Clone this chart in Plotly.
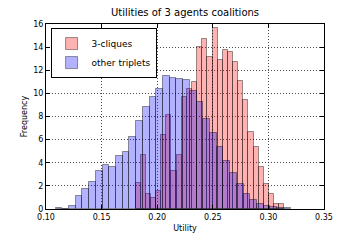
import numpy as np
import plotly.graph_objects as go

# --- data (densities, normed histograms) ---
clique_start = 0.1805      # left edge of first "3-cliques" bin
clique_width = 0.004618    # bin width
clique_heights = [2.25, 4.7, 1.3, 0.95, 1.58, 6.43, 8.16, 3.31, 4.7, 9.69,
                  10.38, 10.95, 14.0, 14.7, 13.15, 15.68, 12.86, 13.72, 13.55, 12.74,
                  11.1, 9.4, 6.7, 5.4, 3.63, 2.19, 1.3, 0.43, 0.43]

other_start = 0.10863
other_width = 0.006038
other_heights = [0.06, 0.0, 0.28, 1.15, 1.76, 2.36, 3.25, 3.83, 3.6, 4.6,
                 4.96, 6.2, 7.58, 8.82, 9.66, 10.4, 11.5, 11.33, 11.27, 11.13,
                 10.2, 9.25, 7.8, 6.6, 5.36, 4.18, 3.11, 2.16, 1.3, 0.8,
                 0.43, 0.25, 0.15, 0.08, 0.05]

x_ticks = [0.10, 0.15, 0.20, 0.25, 0.30, 0.35]
x_tick_labels = ["0.10", "0.15", "0.20", "0.25", "0.30", "0.35"]
y_ticks = [0, 2, 4, 6, 8, 10, 12, 14, 16]

labels = ["3-cliques", "other triplets"]
title = "Utilities of 3 agents coalitions"

def centers(start, width, n):
    return start + width * (np.arange(n) + 0.5)

FONT = "DejaVu Sans"
fig = go.Figure()
fig.add_trace(go.Bar(
    x=centers(clique_start, clique_width, len(clique_heights)),
    y=clique_heights, width=clique_width, name=labels[0],
    marker=dict(color="rgba(255,0,0,0.3)", line=dict(color="rgba(0,0,0,0.4)", width=1)),
))
fig.add_trace(go.Bar(
    x=centers(other_start, other_width, len(other_heights)),
    y=other_heights, width=other_width, name=labels[1],
    marker=dict(color="rgba(0,0,255,0.3)", line=dict(color="rgba(0,0,0,0.4)", width=1)),
))

axis_common = dict(
    showline=True, linecolor="black", linewidth=1, mirror="allticks",
    ticks="inside", ticklen=4, tickwidth=1, tickcolor="black",
    showgrid=True, gridcolor="rgba(0,0,0,0.7)", gridwidth=0.6, griddash="1px,2px",
    zeroline=False, automargin=False,
    tickfont=dict(family=FONT, size=8, color="black"),
)
fig.update_xaxes(range=[0.10, 0.35], tickvals=x_ticks, ticktext=x_tick_labels,
                 title=dict(text="Utility", font=dict(family=FONT, size=8, color="black"), standoff=4),
                 **axis_common)
fig.update_yaxes(range=[0, 16], tickvals=y_ticks,
                 title=dict(text="Frequency", font=dict(family=FONT, size=8, color="black"), standoff=4),
                 **axis_common)

fig.update_layout(
    width=360, height=240,
    margin=dict(l=46, r=36, t=24, b=31),
    barmode="overlay", bargap=0,
    paper_bgcolor="white", plot_bgcolor="white",
    font=dict(family=FONT, size=8, color="black"),
    title=dict(text=title, x=0.5, xref="paper", y=0.948, yref="container",
               xanchor="center", yanchor="middle",
               font=dict(family=FONT, size=10, color="black")),
    legend=dict(x=0.0165, y=0.978, xanchor="left", yanchor="top",
                bgcolor="white", bordercolor="black", borderwidth=1,
                font=dict(family=FONT, size=9, color="black"),
                tracegroupgap=0, itemwidth=30),
    showlegend=True,
)
fig.write_html("out.html", config={"displayModeBar": False},
               post_script="document.body.style.margin='0';document.body.style.overflow='hidden';")
